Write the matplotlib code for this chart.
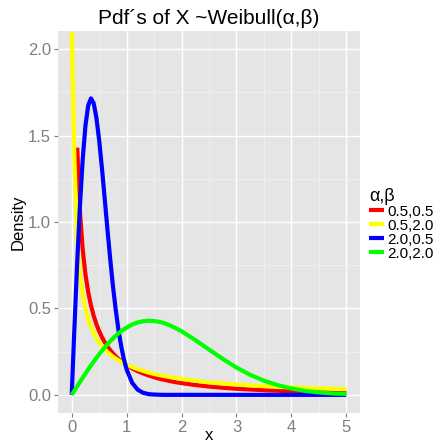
import numpy as np
import matplotlib
matplotlib.use("Agg")
import matplotlib.pyplot as plt

plt.rcParams['font.family'] = ['Liberation Sans', 'DejaVu Sans']

# x grid the curves were read at
x = [0, 0.05, 0.1, 0.15, 0.2, 0.25, 0.3, 0.35, 0.4, 0.45, 0.5, 0.55, 0.6, 0.65,
     0.7, 0.75, 0.8, 0.85, 0.9, 0.95, 1.0, 1.1, 1.2, 1.3, 1.4, 1.5, 1.6, 1.7,
     1.8, 1.9, 2.0, 2.25, 2.5, 2.75, 3.0, 3.25, 3.5, 3.75, 4.0, 4.25, 4.5,
     4.75, 5.0]

# alpha,beta = 0.5,0.5 (first points off the top of the panel)
red = [np.nan, np.nan, 1.430, 1.056, 0.840, 0.697, 0.595, 0.518, 0.457, 0.408,
       0.368, 0.334, 0.305, 0.280, 0.259, 0.240, 0.223, 0.208, 0.195, 0.183,
       0.172, 0.153, 0.137, 0.124, 0.112, 0.102, 0.093, 0.086, 0.079, 0.073,
       0.068, 0.057, 0.048, 0.041, 0.035, 0.031, 0.027, 0.024, 0.021, 0.019,
       0.017, 0.015, 0.013]
# 0.5,2.0
yellow = [2.1, 1.350, 0.894, 0.694, 0.576, 0.497, 0.438, 0.393, 0.357, 0.328,
          0.303, 0.282, 0.264, 0.248, 0.234, 0.221, 0.210, 0.200, 0.191, 0.182,
          0.174, 0.161, 0.149, 0.139, 0.129, 0.121, 0.114, 0.108, 0.102, 0.097,
          0.092, 0.082, 0.073, 0.066, 0.060, 0.055, 0.050, 0.046, 0.043, 0.040,
          0.037, 0.035, 0.033]
# 2.0,0.5
blue = [0.0, 0.396, 0.769, 1.097, 1.363, 1.558, 1.674, 1.715, 1.687, 1.602,
        1.472, 1.312, 1.137, 0.959, 0.789, 0.632, 0.495, 0.378, 0.282, 0.206,
        0.147, 0.070, 0.030, 0.012, 0.004, 0.002, 0.0005, 0.0, 0.0, 0.0,
        0.0, 0.0, 0.0, 0.0, 0.0, 0.0, 0.0, 0.0, 0.0, 0.0, 0.0, 0.0, 0.0]
# 2.0,2.0
green = [0.0, 0.025, 0.050, 0.075, 0.099, 0.123, 0.147, 0.170, 0.192, 0.214,
         0.235, 0.255, 0.274, 0.292, 0.310, 0.326, 0.341, 0.355, 0.368, 0.379,
         0.389, 0.407, 0.419, 0.426, 0.429, 0.427, 0.422, 0.413, 0.400, 0.385,
         0.368, 0.317, 0.262, 0.208, 0.158, 0.116, 0.082, 0.056, 0.037, 0.023,
         0.014, 0.008, 0.005]

labels = ["0.5,0.5", "0.5,2.0", "2.0,0.5", "2.0,2.0"]
colors = ["#FF0000", "#FFFF00", "#0000FF", "#00FF00"]

fig = plt.figure(figsize=(4.39, 4.42), dpi=100)
ax = fig.add_axes([58/439, 1 - 413/442, 302/439, 382/442])
ax.set_facecolor("#E5E5E5")

ax.set_xlim(-0.25, 5.25)
ax.set_ylim(-0.105, 2.105)
ax.set_xticks([0, 1, 2, 3, 4, 5])
ax.set_yticks([0.0, 0.5, 1.0, 1.5, 2.0])
ax.set_yticklabels(["0.0", "0.5", "1.0", "1.5", "2.0"])
ax.set_xticks(np.arange(0.5, 5, 1), minor=True)
ax.set_yticks([0.25, 0.75, 1.25, 1.75], minor=True)
ax.grid(which="major", color="white", linewidth=1.0)
ax.grid(which="minor", color="#F2F2F2", linewidth=0.5)
ax.set_axisbelow(True)
for s in ax.spines.values():
    s.set_visible(False)
ax.tick_params(which="major", colors="#7F7F7F", labelsize=12, length=3,
               width=0.8, pad=2)
ax.tick_params(which="minor", length=0)

for yy, c, lab in zip([red, yellow, blue, green], colors, labels):
    ax.plot(x, yy, color=c, linewidth=3, label=lab, solid_capstyle="butt")

ax.set_xlabel("x", fontsize=12, va="baseline")
ax.xaxis.set_label_coords(0.5, (413 - 440) / 382)
ax.set_ylabel("Density", fontsize=12, labelpad=2)
ax.set_title("Pdf\u00b4s of X ~Weibull(\u03b1,\u03b2)", fontsize=15, pad=5)

leg = ax.legend(loc="upper left", bbox_to_anchor=(1.03, 0.59), frameon=False,
                title="\u03b1,\u03b2", fontsize=11, title_fontsize=13,
                handlelength=0.95, handletextpad=0.25, labelspacing=0.0,
                borderaxespad=0.0, borderpad=0.0)
leg._legend_box.align = "left"
for h in leg.get_lines():
    h.set_linewidth(3)

fig.savefig("out.png", dpi=100)
